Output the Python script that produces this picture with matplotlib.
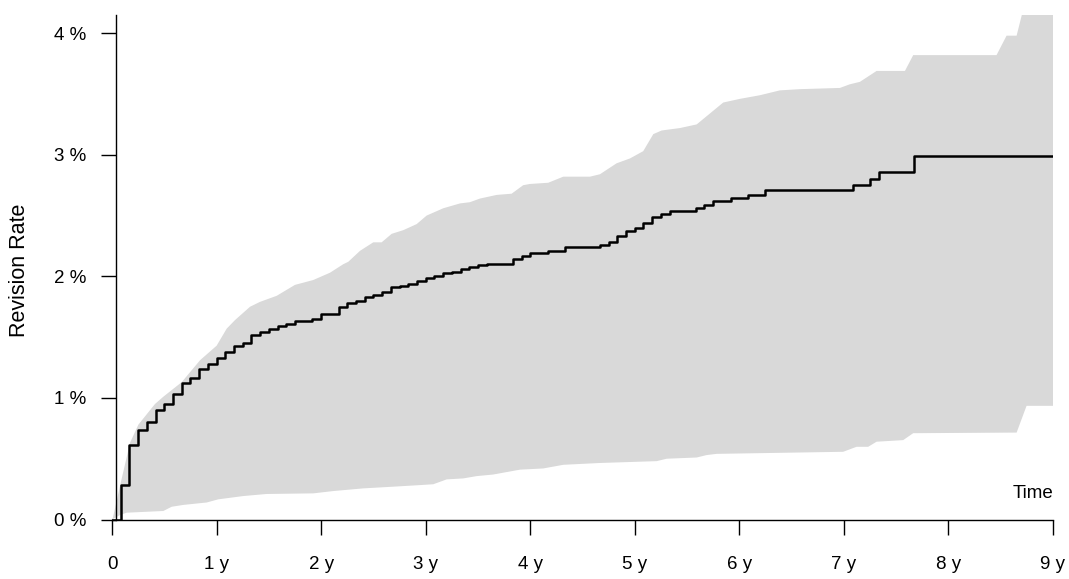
import numpy as np
import matplotlib
matplotlib.use("Agg")
import matplotlib.pyplot as plt

# cumulative revision rate (%), step changes by month
months = [0, 1, 2, 3, 4, 5, 6, 7, 8, 9, 10, 11, 12, 13, 14, 15, 16, 17, 18, 19,
          20, 21, 23, 24, 26, 27, 28, 29, 30, 31, 32, 33, 34, 35, 36, 37, 38, 39,
          40, 41, 42, 43, 46, 47, 48, 50, 52, 56, 57, 58, 59, 60, 61, 62, 63, 64,
          67, 68, 69, 71, 73, 75, 85, 87, 88, 92, 108]
rates = [0, 0.28, 0.61, 0.735, 0.80, 0.90, 0.95, 1.03, 1.12, 1.165, 1.24, 1.28,
         1.33, 1.38, 1.43, 1.45, 1.52, 1.54, 1.57, 1.59, 1.61, 1.63, 1.65, 1.69,
         1.75, 1.78, 1.80, 1.83, 1.85, 1.87, 1.91, 1.92, 1.935, 1.96, 1.99, 2.0,
         2.03, 2.04, 2.06, 2.08, 2.09, 2.105, 2.14, 2.17, 2.19, 2.21, 2.24, 2.26,
         2.28, 2.33, 2.37, 2.40, 2.44, 2.49, 2.51, 2.535, 2.56, 2.585, 2.62, 2.645,
         2.67, 2.71, 2.755, 2.805, 2.855, 2.99, 2.99]

# confidence band edges (years, %)
upper_t = [0, 0.01, 0.083, 0.172, 0.252, 0.411, 0.491, 0.667, 0.842, 1.001, 1.097,
           1.176, 1.320, 1.415, 1.575, 1.750, 1.925, 2.085, 2.212, 2.260, 2.372,
           2.499, 2.579, 2.675, 2.786, 2.914, 3.009, 3.168, 3.328, 3.423, 3.519,
           3.679, 3.822, 3.933, 3.997, 4.172, 4.316, 4.571, 4.667, 4.826, 4.890,
           4.954, 5.081, 5.177, 5.257, 5.432, 5.592, 5.846, 6.005, 6.197, 6.388,
           6.579, 6.962, 7.057, 7.153, 7.313, 7.584, 7.663, 8.460, 8.556, 8.652,
           8.76, 9.0]
upper = [0, 0.02, 0.30, 0.63, 0.78, 0.95, 1.01, 1.13, 1.31, 1.43, 1.57, 1.64, 1.75,
         1.79, 1.84, 1.93, 1.97, 2.03, 2.10, 2.12, 2.21, 2.28, 2.28, 2.35, 2.38,
         2.43, 2.50, 2.56, 2.60, 2.61, 2.64, 2.67, 2.68, 2.75, 2.76, 2.77, 2.82,
         2.82, 2.84, 2.93, 2.95, 2.97, 3.03, 3.17, 3.20, 3.22, 3.25, 3.43, 3.46,
         3.49, 3.53, 3.54, 3.55, 3.58, 3.60, 3.69, 3.69, 3.82, 3.82, 3.98, 3.98,
         4.35, 4.35]
lower_t = [0, 0.077, 0.141, 0.491, 0.571, 0.682, 0.906, 1.017, 1.256, 1.479, 1.925,
           2.116, 2.403, 2.690, 2.945, 3.073, 3.201, 3.359, 3.488, 3.646, 3.902,
           4.125, 4.316, 4.667, 5.209, 5.305, 5.592, 5.687, 5.783, 6.993, 7.121,
           7.232, 7.313, 7.567, 7.663, 8.652, 8.747, 9.0]
lower = [0, 0.037, 0.056, 0.07, 0.105, 0.12, 0.14, 0.166, 0.193, 0.21, 0.215, 0.234,
         0.256, 0.27, 0.283, 0.29, 0.33, 0.338, 0.357, 0.37, 0.41, 0.42, 0.45, 0.465,
         0.48, 0.50, 0.51, 0.53, 0.54, 0.557, 0.598, 0.598, 0.64, 0.653, 0.71, 0.715,
         0.935, 0.935]

x_ticks = list(range(10))
x_labels = ["0"] + [f"{i} y" for i in range(1, 10)]
y_ticks = [0, 1, 2, 3, 4]
y_labels = [f"{i} %" for i in y_ticks]

plt.rcParams["font.family"] = ["Liberation Sans", "DejaVu Sans"]
fs = 13.5

fig = plt.figure(figsize=(10.69, 5.79), dpi=100)
ax = fig.add_axes([112 / 1069, 1 - 519.5 / 579, 941 / 1069, 504.5 / 579])

# band polygon: upper edge forward, lower edge back
band_x = np.concatenate([upper_t, lower_t[::-1]])
band_y = np.concatenate([upper, lower[::-1]])
ax.fill(band_x, band_y, color="#d9d9d9", linewidth=0)

t = np.array(months) / 12.0
ax.plot(t, rates, drawstyle="steps-post", color="black", linewidth=1.8)

ax.set_xlim(0, 9)
ax.set_ylim(0, 4.15)

for side in ["top", "right"]:
    ax.spines[side].set_visible(False)
ax.spines["left"].set_position(("data", 0.04))
ax.spines["left"].set_linewidth(1.0)
ax.spines["bottom"].set_linewidth(1.0)

ax.set_xticks(x_ticks)
ax.set_xticklabels(x_labels)
ax.set_yticks(y_ticks)
ax.set_yticklabels(y_labels)
ax.tick_params(axis="both", direction="out", length=10.5, width=1.0,
               labelsize=fs, colors="black")
ax.tick_params(axis="x", pad=16)
ax.tick_params(axis="y", pad=11)

ax.text(9, 0.215, "Time", ha="right", va="center", fontsize=fs)
fig.text(20 / 1069, 1 - 270 / 579, "Revision Rate", rotation=90,
         ha="center", va="center", fontsize=15.5)

fig.savefig("out.png", dpi=100)
